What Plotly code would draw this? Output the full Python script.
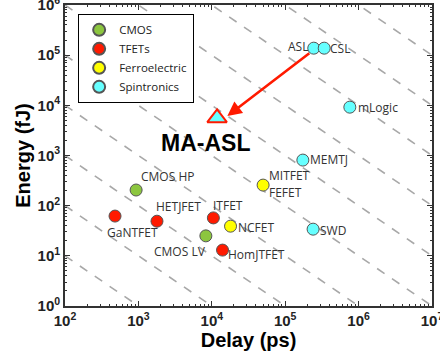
import plotly.graph_objects as go
import numpy as np

# ---- data ----
cmos_names = ["CMOS HP", "CMOS LV"]
cmos_delay = [930, 8300]
cmos_energy = [205, 25]

tfet_names = ["GaNTFET", "HETJFET", "ITFET", "HomJTFET"]
tfet_delay = [480, 1790, 10500, 14000]
tfet_energy = [62, 49, 57, 13]

fe_names = ["MITFET/FEFET", "NCFET"]
fe_delay = [50000, 18000]
fe_energy = [257, 39]

spin_names = ["ASL", "CSL", "mLogic", "MEMTJ", "SWD"]
spin_delay = [245000, 340000, 760000, 174000, 240000]
spin_energy = [138000, 138000, 9200, 810, 34]

maasl_delay = [11800]
maasl_energy = [5600]

x_exps = [2, 3, 4, 5, 6, 7]
y_exps = [0, 1, 2, 3, 4, 5, 6]
edp_exponents = [3, 4, 5, 6, 7, 8, 9, 10, 11, 12]

fig = go.Figure()

# constant energy-delay product reference lines
for k in edp_exponents:
    d = np.logspace(2, 7, 60)
    e = 10.0 ** k / d
    m = (e >= 1) & (e <= 1e6)
    fig.add_trace(go.Scatter(x=d[m], y=e[m], mode="lines",
                             line=dict(color="#a8a8a8", width=1.6, dash="dash"),
                             showlegend=False, hoverinfo="skip"))

mk = dict(size=12, line=dict(color="#555555", width=1))
fig.add_trace(go.Scatter(x=cmos_delay, y=cmos_energy, mode="markers", name="CMOS",
                         marker=dict(color="#8cc63f", **mk)))
fig.add_trace(go.Scatter(x=tfet_delay, y=tfet_energy, mode="markers", name="TFETs",
                         marker=dict(color="#ff1a00", **mk)))
fig.add_trace(go.Scatter(x=fe_delay, y=fe_energy, mode="markers", name="Ferroelectric",
                         marker=dict(color="#ffff00", **mk)))
fig.add_trace(go.Scatter(x=spin_delay, y=spin_energy, mode="markers", name="Spintronics",
                         marker=dict(color="#66ffff", **mk)))
fig.add_trace(go.Scatter(x=maasl_delay, y=maasl_energy, mode="markers", showlegend=False,
                         marker=dict(symbol="triangle-up", size=17, color="#66ffff",
                                     line=dict(color="#ff1a00", width=2))))

lf = dict(family="Open Sans, Liberation Sans, sans-serif", size=12, color="#333333")

def lab(x, y, t, xs=0, ys=0, xa="left"):
    fig.add_annotation(x=np.log10(x), y=np.log10(y), text=t, showarrow=False,
                       xshift=xs, yshift=ys, xanchor=xa, font=lf)

lab(cmos_delay[0], cmos_energy[0], "CMOS HP", xs=3, ys=14)
lab(cmos_delay[1], cmos_energy[1], "CMOS LV", xs=2, ys=-16, xa="right")
lab(tfet_delay[0], tfet_energy[0], "GaNTFET", xs=-10, ys=-16)
lab(tfet_delay[1], tfet_energy[1], "HETJFET", xs=-3, ys=15)
lab(tfet_delay[2], tfet_energy[2], "ITFET", xs=-2, ys=12)
lab(tfet_delay[3], tfet_energy[3], "HomJTFET", xs=3, ys=-4)
lab(fe_delay[0], fe_energy[0], "MITFET", xs=4, ys=10)
lab(fe_delay[0], fe_energy[0], "FEFET", xs=4, ys=-7)
lab(fe_delay[1], fe_energy[1], "NCFET", xs=5, ys=-1)
lab(spin_delay[0], spin_energy[0], "ASL", xs=-4, ys=2, xa="right")
lab(spin_delay[1], spin_energy[1], "CSL", xs=4, ys=0)
lab(spin_delay[2], spin_energy[2], "mLogic", xs=6, ys=0)
lab(spin_delay[3], spin_energy[3], "MEMTJ", xs=5, ys=1)
lab(spin_delay[4], spin_energy[4], "SWD", xs=5, ys=-1)

fig.add_annotation(x=np.log10(maasl_delay[0]), y=np.log10(maasl_energy[0]), text="<b>MA-ASL</b>",
                   showarrow=False, yshift=-25, xshift=-12,
                   font=dict(family="Liberation Sans, Arial, sans-serif", size=23, color="black"))

# arrow from ASL to MA-ASL
fig.add_annotation(x=np.log10(maasl_delay[0]) + 0.14, y=np.log10(maasl_energy[0]) + 0.04,
                   ax=np.log10(spin_delay[0]) - 0.04, ay=np.log10(spin_energy[0]) - 0.08,
                   xref="x", yref="y", axref="x", ayref="y", text="", showarrow=True,
                   arrowhead=2, arrowsize=1.1, arrowwidth=2.6, arrowcolor="#ff1a00")

axfont = dict(family="Liberation Sans, Arial, sans-serif", size=15, color="#222222")

def minor_vals(lo, hi):
    return [m * 10.0 ** k for k in range(lo, hi) for m in range(2, 10)]

common = dict(type="log", ticks="inside", ticklen=5,
              tickwidth=1.2, tickcolor="#333333", mirror="allticks", showline=True,
              linecolor="#333333", linewidth=1.8, showgrid=False, zeroline=False,
              tickfont=axfont, ticklabeloverflow="allow", automargin=False)

fig.update_xaxes(range=[1.9995, 7.0005],
                 tickvals=[10.0 ** k for k in x_exps],
                 ticktext=[f"<b>10<sup>{k}</sup></b>" for k in x_exps],
                 minor=dict(ticks="inside", ticklen=2.5, tickcolor="#333333",
                            tickvals=minor_vals(2, 7), showgrid=False),
                 title=dict(text="<b>Delay (ps)</b>", standoff=2,
                            font=dict(family="Liberation Sans, Arial, sans-serif", size=20, color="black")),
                 **common)
fig.update_yaxes(range=[-0.0005, 6.0005],
                 tickvals=[10.0 ** k for k in y_exps],
                 ticktext=[f"<b>10<sup>{k}</sup></b>" for k in y_exps],
                 minor=dict(ticks="inside", ticklen=2.5, tickcolor="#333333",
                            tickvals=minor_vals(0, 6), showgrid=False),
                 title=dict(text="<b>Energy (fJ)</b>", standoff=2,
                            font=dict(family="Liberation Sans, Arial, sans-serif", size=20, color="black")),
                 **common)

fig.update_layout(
    width=440, height=362,
    margin=dict(l=65, r=8, t=5, b=56),
    plot_bgcolor="white", paper_bgcolor="white",
    legend=dict(x=0.035, y=0.97, xanchor="left", yanchor="top",
                bgcolor="white", bordercolor="black", borderwidth=1.3,
                font=dict(family="Open Sans, Liberation Sans, sans-serif", size=11.5, color="#222222"),
                itemsizing="constant", tracegroupgap=0, itemwidth=30),
)

fig.write_html("out.html")
